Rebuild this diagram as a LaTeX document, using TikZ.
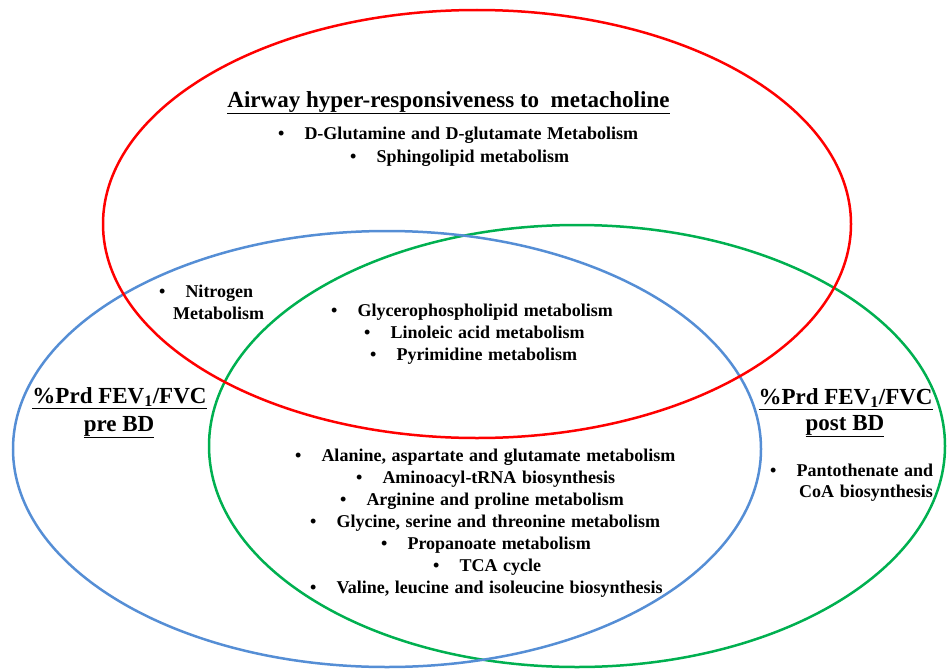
\documentclass[tikz,border=0pt]{standalone}
\usepackage{fontspec}
\setmainfont{Liberation Serif}
\definecolor{vred}{RGB}{255,0,0}
\definecolor{vblue}{RGB}{85,142,213}
\definecolor{vgreen}{RGB}{0,176,80}
\newcommand\bul{\textbullet\hspace{20pt}}
\newcommand\itemfont{\fontsize{18}{21}\selectfont\bfseries\spaceskip=0.31em\relax}
\tikzset{
  ring/.style={line width=2.5pt},
  item/.style={inner sep=0pt, anchor=base west, font=\itemfont},
  head/.style={inner sep=0pt, anchor=base, font=\fontsize{23}{26}\selectfont\bfseries},
}
\begin{document}
\begin{tikzpicture}[x=1pt,y=-1pt]
\useasboundingbox (0,0) rectangle (947,669);
% circles
\draw[ring, vgreen] (577,446) ellipse [x radius=368, y radius=221];
\draw[ring, vblue] (387,449) ellipse [x radius=374, y radius=218];
\draw[ring, vred] (477,224) ellipse [x radius=374, y radius=214];
% headings
\node[head] (title) at (448.5,107) {\underline{Airway hyper-responsiveness to~~metacholine}};
\node[head] (preA) at (119.5,403) {\underline{\%Prd FEV\textsubscript{1}/FVC}};
\node[head] (preB) at (119,431) {\underline{pre BD}};
\node[head] (postA) at (845.5,404) {\underline{\%Prd FEV\textsubscript{1}/FVC}};
\node[head] (postB) at (845,430) {\underline{post BD}};
% AHR only
\node[item] (dglu) at (278,139) {\bul D-Glutamine and D-glutamate Metabolism};
\node[item] (sph) at (350,162) {\bul Sphingolipid metabolism};
% AHR + pre
\node[item] (nitA) at (159,297) {\bul Nitrogen};
\node[item] (nitB) at (173,319) {Metabolism};
% all three
\node[item] (gly) at (331,316) {\bul Glycerophospholipid metabolism};
\node[item] (lin) at (364,338) {\bul Linoleic acid metabolism};
\node[item] (pyr) at (370,360) {\bul Pyrimidine metabolism};
% pre + post
\node[item] (ala) at (295,461) {\bul Alanine, aspartate and glutamate metabolism};
\node[item] (amt) at (356,483) {\bul Aminoacyl-tRNA biosynthesis};
\node[item] (arg) at (340,505) {\bul Arginine and proline metabolism};
\node[item] (glc) at (310,527) {\bul Glycine, serine and threonine metabolism};
\node[item] (pro) at (381,549) {\bul Propanoate metabolism};
\node[item] (tca) at (433,571) {\bul TCA cycle};
\node[item] (val) at (310,593) {\bul Valine, leucine and isoleucine biosynthesis};
% post only
\node[item] (panA) at (770,476) {\bul Pantothenate and};
\node[item] (panB) at (799,497) {CoA biosynthesis};
\end{tikzpicture}
\end{document}
